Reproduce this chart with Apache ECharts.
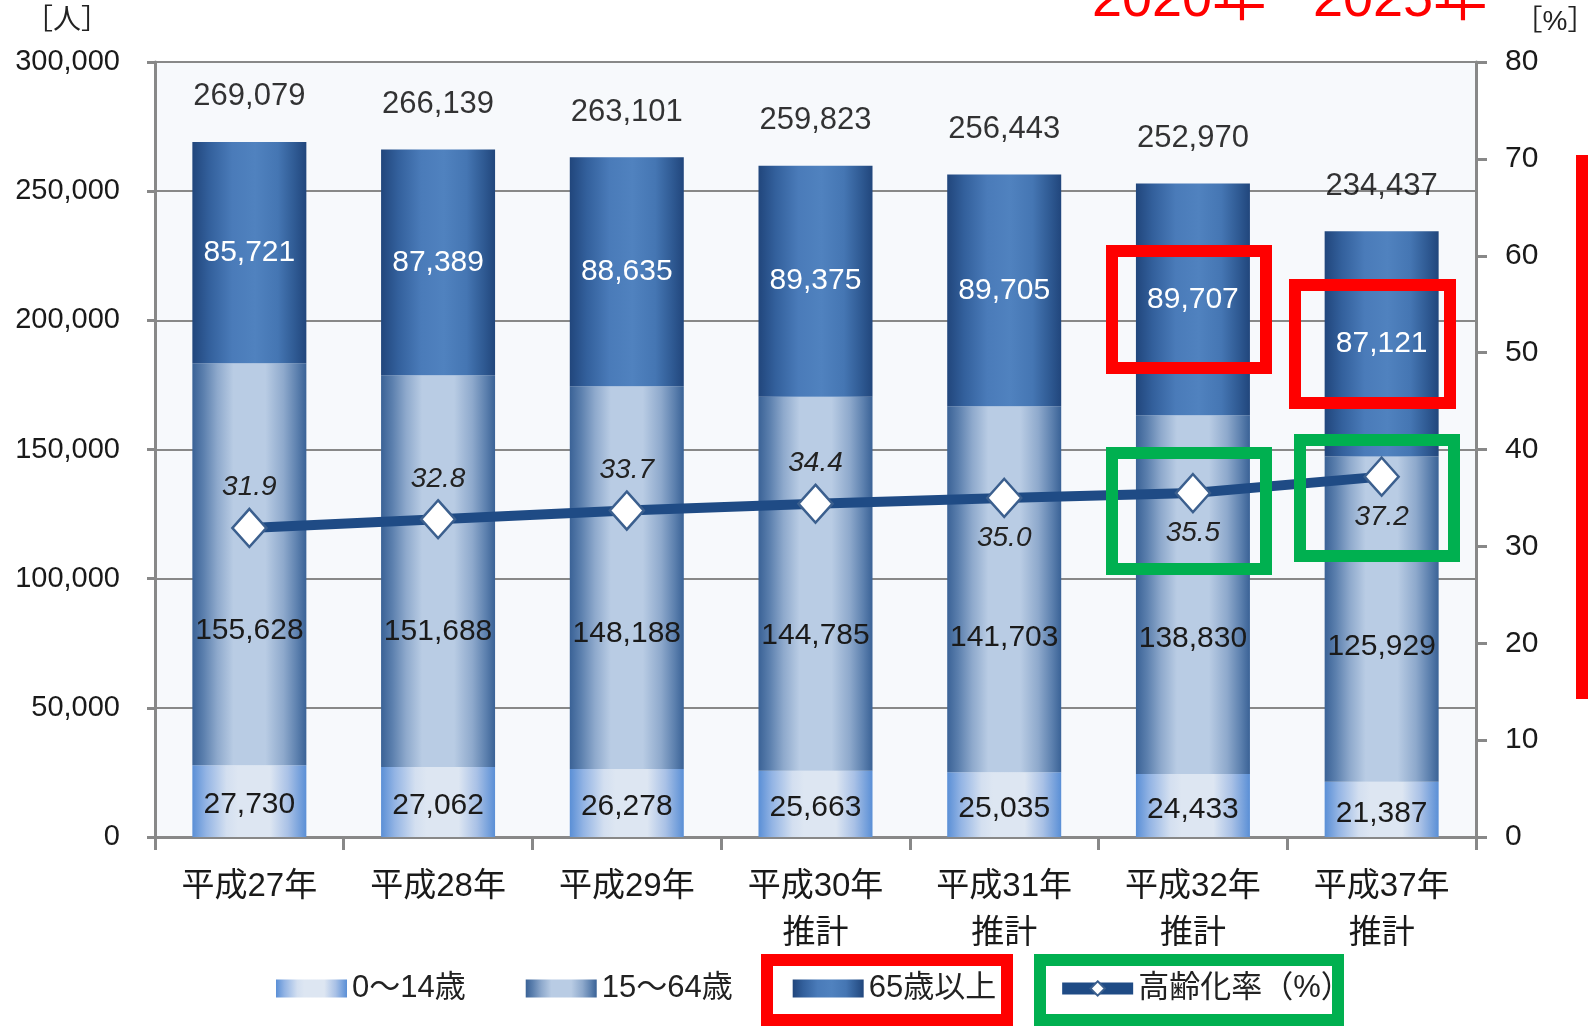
<!DOCTYPE html>
<html>
<head>
<meta charset="utf-8">
<title>人口推計</title>
<script src="https://cdn.jsdelivr.net/npm/echarts@6.0.0/dist/echarts.min.js"></script>
<style>
	html, body { margin: 0; padding: 0; background: #fff; }
	#main { width: 1588px; height: 1026px; }
</style>
</head>
<body>
<div id="main"></div>
<script>
var categories = ['平成27年', '平成28年', '平成29年', '平成30年\n推計', '平成31年\n推計', '平成32年\n推計', '平成37年\n推計'];
var age0to14 = [27730, 27062, 26278, 25663, 25035, 24433, 21387];
var age15to64 = [155628, 151688, 148188, 144785, 141703, 138830, 125929];
var age65plus = [85721, 87389, 88635, 89375, 89705, 89707, 87121];
var totals = [269079, 266139, 263101, 259823, 256443, 252970, 234437];
var agingRate = [31.9, 32.8, 33.7, 34.4, 35.0, 35.5, 37.2];
var leftTicks = { min: 0, max: 300000, interval: 50000 };
var rightTicks = { min: 0, max: 80, interval: 10 };

var FONT = "'Liberation Sans', 'Noto Sans CJK JP', sans-serif";

function comma(v){
	return Number(v).toLocaleString('en-US');
}
//横方向グラデーション
function grad(stops){
	var arr = [];
	for(var i=0; i<stops.length; i++){
		arr.push({offset: stops[i][0], color: stops[i][1]});
	}
	return new echarts.graphic.LinearGradient(0, 0, 1, 0, arr);
}
function box(x, y, w, h, color){
	return {
		type: 'rect',
		shape: {x: x, y: y, width: w, height: h},
		style: {fill: 'none', stroke: color, lineWidth: 12},
		z: 100
	};
}

var myChart = echarts.init(document.getElementById('main'));

var option = {
	animation: false,
	textStyle: {fontFamily: FONT},
	grid: {
		left: 155, right: 112, top: 62, bottom: 189,
		show: true, backgroundColor: '#f7f9fc', borderWidth: 0
	},
	legend: {
		data: [
			{name: '0～14歳', icon: 'rect'},
			{name: '15～64歳', icon: 'rect'},
			{name: '65歳以上', icon: 'rect'},
			{name: '高齢化率（%）', lineStyle: {width: 12, color: '#1f4b85'}}
		],
		left: 271, top: 968,
		itemWidth: 71, itemHeight: 18, itemGap: 60,
		textStyle: {fontSize: 31, color: '#222', fontFamily: FONT}
	},
	xAxis: {
		type: 'category',
		data: categories,
		axisLine: {lineStyle: {color: '#888', width: 3}},
		axisTick: {show: true, length: 13, lineStyle: {color: '#888', width: 3}},
		axisLabel: {margin: 26, fontSize: 33, lineHeight: 47, color: '#1a1a1a'}
	},
	yAxis: [{
		type: 'value',
		min: leftTicks.min, max: leftTicks.max, interval: leftTicks.interval,
		axisLine: {show: true, lineStyle: {color: '#888', width: 3}},
		axisTick: {show: true, length: 8, lineStyle: {color: '#888', width: 3}},
		splitLine: {show: true, lineStyle: {color: '#888', width: 2}},
		axisLabel: {margin: 35, fontSize: 29, color: '#1a1a1a', formatter: comma}
	}, {
		type: 'value',
		min: rightTicks.min, max: rightTicks.max, interval: rightTicks.interval,
		axisLine: {show: true, lineStyle: {color: '#888', width: 3}},
		axisTick: {show: true, length: 11, lineStyle: {color: '#888', width: 3}},
		splitLine: {show: false},
		axisLabel: {margin: 29, fontSize: 30, color: '#1a1a1a'}
	}],
	series: [{
		name: '0～14歳',
		type: 'bar',
		stack: 'pop',
		barWidth: 114,
		data: age0to14,
		itemStyle: {color: grad([[0,'#5a8fd6'],[0.12,'#93b4e4'],[0.3,'#d3dff0'],[0.4,'#dde6f2'],[0.68,'#dde6f2'],[0.84,'#a9c1e6'],[1,'#5a8fd6']])},
		label: {show: true, position: 'inside', offset: [0, 4], fontSize: 30, color: '#1a1a1a', formatter: function(p){ return comma(p.value); }}
	}, {
		name: '15～64歳',
		type: 'bar',
		stack: 'pop',
		data: age15to64,
		itemStyle: {color: grad([[0,'#3a6296'],[0.1,'#5c80ae'],[0.22,'#8ea9cc'],[0.36,'#b9cce4'],[0.64,'#b9cce4'],[0.8,'#8ea9cc'],[0.92,'#5c80ae'],[1,'#3a6296']])},
		label: {show: true, position: 'insideBottom', distance: 120, fontSize: 30, color: '#1a1a1a', formatter: function(p){ return comma(p.value); }}
	}, {
		name: '65歳以上',
		type: 'bar',
		stack: 'pop',
		data: age65plus,
		itemStyle: {color: grad([[0,'#21467c'],[0.15,'#33609c'],[0.35,'#4a7bb9'],[0.55,'#5082bf'],[0.75,'#4576b3'],[0.9,'#2f5a93'],[1,'#21467c']])},
		label: {show: true, position: 'inside', fontSize: 30, color: '#fff', formatter: function(p){ return comma(p.value); }}
	}, {
		name: 'total',
		type: 'scatter',
		data: totals,
		symbolSize: 1,
		itemStyle: {color: 'rgba(0,0,0,0)'},
		label: {show: true, position: 'top', distance: 29, fontSize: 31, color: '#000', formatter: function(p){ return comma(p.value); }},
		z: 5
	}, {
		name: '高齢化率（%）',
		type: 'line',
		yAxisIndex: 1,
		data: agingRate.map(function(v, i){
			return {value: v, label: {position: i < 4 ? 'top' : 'bottom'}};
		}),
		symbol: 'diamond',
		symbolSize: [34, 38],
		lineStyle: {color: '#1f4b85', width: 10},
		itemStyle: {color: '#fff', borderColor: '#3b5f8e', borderWidth: 2.5},
		label: {show: true, distance: 6, fontSize: 28, fontStyle: 'italic', color: '#222', formatter: function(p){ return p.value.toFixed(1); }},
		z: 6
	}],
	graphic: [
		{type: 'text', x: 67, y: 21, style: {text: '［人］', font: '28px ' + FONT, fill: '#222', align: 'center', verticalAlign: 'middle'}},
		{type: 'text', x: 1555, y: 22, style: {text: '［%］', font: '28px ' + FONT, fill: '#222', align: 'center', verticalAlign: 'middle'}},
		{type: 'text', x: 1092, y: 1, style: {text: '2020年', font: '54px ' + FONT, fill: '#ff0000', verticalAlign: 'middle'}, z: 100},
		{type: 'text', x: 1313, y: 1, style: {text: '2025年', font: '54px ' + FONT, fill: '#ff0000', verticalAlign: 'middle'}, z: 100},
		{type: 'rect', shape: {x: 1576, y: 155, width: 12, height: 544}, style: {fill: '#ff0000'}, z: 100},
		box(1112, 251, 154, 117, '#ff0000'),
		box(1295, 285, 155, 118, '#ff0000'),
		box(1112, 453, 154, 116, '#00b050'),
		box(1300, 440, 154, 116, '#00b050'),
		box(767, 960, 240, 60, '#ff0000'),
		box(1040, 960, 298, 60, '#00b050')
	]
};
myChart.setOption(option);
</script>
</body>
</html>
